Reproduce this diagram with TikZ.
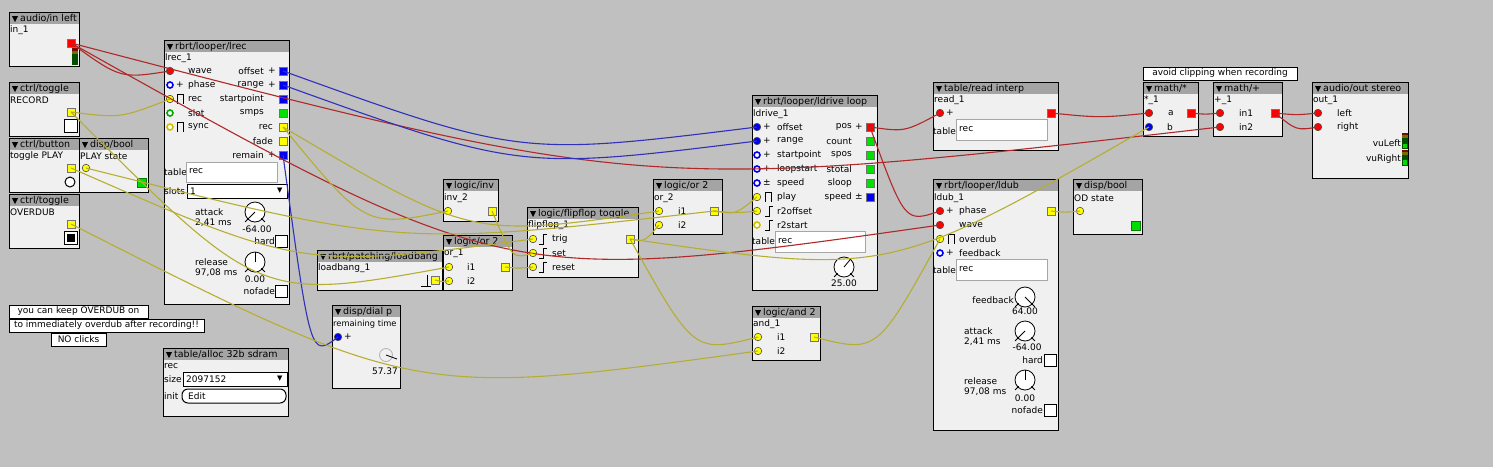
\documentclass[tikz,border=0pt]{standalone}
\usepackage{fontspec}
\setmainfont{DejaVu Sans}
\usetikzlibrary{calc}

\definecolor{patchbg}{RGB}{192,192,192}
\definecolor{objbg}{RGB}{240,240,240}
\definecolor{headbg}{RGB}{164,164,164}
\definecolor{wirered}{RGB}{176,40,40}
\definecolor{wireblue}{RGB}{48,48,184}
\definecolor{wireyel}{RGB}{182,174,50}
\definecolor{portred}{RGB}{255,0,0}
\definecolor{portblue}{RGB}{0,0,240}
\definecolor{portyel}{RGB}{255,255,0}
\definecolor{portgreen}{RGB}{0,225,0}
\definecolor{ringyel}{RGB}{205,195,0}
\definecolor{ringgreen}{RGB}{0,170,0}
\definecolor{vured}{RGB}{120,10,10}
\definecolor{vuolive}{RGB}{120,110,0}
\definecolor{vudark}{RGB}{0,80,0}
\definecolor{vulit}{RGB}{0,220,0}

\tikzset{
  lbl/.style={anchor=west, inner sep=0pt, font=\fontsize{9}{10}\selectfont},
  lblr/.style={anchor=east, inner sep=0pt, font=\fontsize{9}{10}\selectfont},
  lblc/.style={anchor=center, inner sep=0pt, font=\fontsize{9}{10}\selectfont},
  headtext/.style={anchor=west, inner sep=0pt, font=\fontsize{9.5}{10}\selectfont},
  inport/.style={circle, draw=black!70, fill=#1, inner sep=0pt, minimum size=7.5pt, line width=0.6pt},
  inring/.style={circle, draw=#1, fill=white, inner sep=0pt, minimum size=6pt, line width=1.6pt},
  outport/.style={rectangle, draw=black!55, fill=#1, inner sep=0pt, minimum size=8pt, line width=0.6pt},
  objline/.style={draw=black, line width=1pt},
  field/.style={draw=black!35, fill=white, line width=1pt},
  note/.style={draw=black, fill=white, line width=1pt, inner sep=0pt, minimum height=13pt, font=\fontsize{9}{10}\selectfont},
  symline/.style={line width=0.8pt},
  wire/.style={line width=1.1pt},
}

% object box with grey title bar
\newcommand{\axobj}[6]{%
  \fill[objbg] (#2,#3) rectangle (#4,#5);
  \fill[headbg] (#2,#3) rectangle (#4,#3+12);
  \draw[objline] (#2,#3) rectangle (#4,#5);
  \fill (#2+3,#3+4) -- (#2+9,#3+4) -- (#2+6,#3+10) -- cycle;
  \node[headtext] (#1) at (#2+11,#3+6.5) {#6};}
% inlet / outlet with label
\newcommand{\inp}[6]{%
  \node[#4] (#1) at (#2,#3) {};
  \node[lbl] (#1-l) at (#5,#3) {#6};}
\newcommand{\outp}[6]{%
  \node[#4] (#1) at (#2,#3) {};
  \node[lblr] (#1-l) at (#5,#3) {#6};}
\newcommand{\pulsesym}[2]{\draw[symline] (#1-3,#2+5) -- (#1-3,#2-5) -- (#1+3,#2-5) -- (#1+3,#2+5);}
\newcommand{\edgesym}[2]{\draw[symline] (#1-4,#2+5) -- (#1,#2+5) -- (#1,#2-5) -- (#1+4,#2-5);}
\newcommand{\chkbox}[2]{\draw[objline, fill=white] (#1,#2) rectangle (#1+12,#2+12);}
\newcommand{\knob}[3]{%
  \draw[line width=0.8pt, fill=white] (#1,#2) circle [radius=10pt];
  \draw[line width=0.8pt] (#1,#2) ++(225:9pt) -- ++(225:5pt);
  \draw[line width=0.8pt] (#1,#2) ++(315:9pt) -- ++(315:5pt);
  \draw[line width=0.8pt] (#1,#2) -- ++(#3:10pt);}
% sagging patch cord
\newcommand{\wire}[3]{%
  \draw[wire,#1] let \p1=(#2), \p2=(#3),
    \n1={min(\y1,\y2)-0.1*abs(\y1-\y2)-0.05*abs(\x1-\x2)},
    \n2={(\x1+\x2)/2} in
    (\p1) .. controls ({\n2*1pt},{\n1*1pt}) and ({\n2*1pt},{\n1*1pt}) .. (\p2);}

\begin{document}
\begin{tikzpicture}[x=1pt, y=-1pt]
  \useasboundingbox (0,0) rectangle (1493,467);
  \fill[patchbg] (0,0) rectangle (1493,467);

  % left controls
  \axobj{inleft}{9}{12}{79}{66}{audio/in left}
  \node[lbl] (inleft-n) at (10,30) {in\_1};
  \fill[vured] (72,48) rectangle (78,51);
  \fill[vuolive] (72,51) rectangle (78,54);
  \fill[vudark] (72,54) rectangle (78,65);
  \node[outport=portred] (in1o) at (71,43) {};

  \axobj{rectog}{9}{82}{79}{136}{ctrl/toggle}
  \node[lbl] (rectog-n) at (10,100) {RECORD};
  \node[outport=portyel] (recordo) at (71,112) {};
  \draw[objline, fill=white] (64,119) rectangle (77,132);

  \axobj{playbtn}{9}{138}{79}{192}{ctrl/button}
  \node[lbl] (playbtn-n) at (10,156) {toggle PLAY};
  \node[outport=portyel] (playbo) at (71,168) {};
  \draw[objline, fill=white] (70,182) circle [radius=5pt];

  \axobj{playbool}{79}{138}{148}{192}{disp/bool}
  \node[lbl] (playbool-n) at (80,156) {PLAY state};
  \node[inport=portyel] (playsi) at (86,168) {};
  \draw[fill=vulit, draw=green!50!black] (137,178) rectangle (146,187);

  \axobj{odtog}{9}{194}{79}{248}{ctrl/toggle}
  \node[lbl] (odtog-n) at (10,212) {OVERDUB};
  \node[outport=portyel] (overdo) at (71,224) {};
  \draw[objline, fill=white] (64,231) rectangle (77,244);
  \fill (66.5,233.5) rectangle (74.5,241.5);

  \node[note, minimum width=139pt] (note1) at (78.5,311.5) {you can keep OVERDUB on};
  \node[note, minimum width=195pt] (note2) at (106.5,325.5) {to immediately overdub after recording!!};
  \node[note, minimum width=55pt] (note3) at (78.5,339.5) {NO clicks};

  % recorder
  \axobj{lrec}{164}{40}{289}{304}{rbrt/looper/lrec}
  \node[lbl] (lrec-n) at (165,58) {lrec\_1};
  \inp{lrecwave}{170}{71}{inport=portred}{188}{wave}
  \inp{lrecphase}{170}{85}{inring=portblue}{188}{phase}
  \node[lbl] (lrecphase-s) at (176,85) {+};
  \inp{lrecrec}{170}{99}{inport=portyel}{188}{rec}
  \pulsesym{180}{99}
  \inp{lrecslot}{170}{113}{inring=ringgreen}{188}{slot}
  \inp{lrecsync}{170}{127}{inring=ringyel}{188}{sync}
  \pulsesym{180}{127}
  \outp{lrecoff}{283}{71}{outport=portblue}{264}{offset}
  \node[lbl] (lrecoff-s) at (268,71) {+};
  \outp{lrecrng}{283}{85}{outport=portblue}{264}{range}
  \node[lbl] (lrecrng-s) at (268,85) {+};
  \outp{lrecsp}{283}{99}{outport=portblue}{264}{startpoint}
  \outp{lrecsmps}{283}{113}{outport=portgreen}{264}{smps}
  \outp{lrecreco}{283}{127}{outport=portyel}{273}{rec}
  \outp{lrecfade}{283}{141}{outport=portyel}{273}{fade}
  \outp{lrecrem}{283}{155}{outport=portblue}{264}{remain}
  \node[lbl] (lrecrem-s) at (268,155) {+};
  \node[lbl] (lrectab-l) at (164,172) {table};
  \draw[field] (186,162) rectangle (277,182);
  \node[lbl] (lrectab) at (189,171) {rec};
  \node[lbl] (lrecslots-l) at (164,191) {slots};
  \draw[objline, fill=white] (187,184) rectangle (287,198);
  \node[lbl] (lrecslots) at (190,191) {1};
  \node[lbl, font=\fontsize{7}{8}\selectfont] (lrecslots-a) at (277,191) {▼};
  \node[lbl] (lrecatt-l) at (195,212) {attack};
  \node[lbl] (lrecatt-v) at (195,223) {2,41 ms};
  \knob{255}{212}{225}
  \node[lblc] (lrecatt-k) at (257,229) {-64.00};
  \node[lblr] (lrechard-l) at (275,241) {hard};
  \chkbox{275}{235}
  \node[lbl] (lrecrel-l) at (195,262) {release};
  \node[lbl] (lrecrel-v) at (195,273) {97,08 ms};
  \knob{255}{262}{90}
  \node[lblc] (lrecrel-k) at (255,279) {0.00};
  \node[lblr] (lrecnofade-l) at (275,291) {nofade};
  \chkbox{275}{285}

  % table
  \axobj{alloc}{163}{348}{288}{416}{table/alloc 32b sdram}
  \node[lbl] (alloc-n) at (164,366) {rec};
  \node[lbl] (allocsize-l) at (164,379) {size};
  \draw[objline, fill=white] (183,372) rectangle (287,386);
  \node[lbl] (allocsize) at (186,379) {2097152};
  \node[lbl, font=\fontsize{7}{8}\selectfont] (allocsize-a) at (277,379) {▼};
  \node[lbl] (allocinit-l) at (164,396) {init};
  \draw[objline, fill=white, rounded corners=6pt] (182,389) rectangle (286,403);
  \node[lbl] (allocinit) at (188,396) {Edit};

  % remaining time display
  \axobj{dial}{332}{305}{400}{388}{disp/dial p}
  \node[lbl, font=\fontsize{8.3}{10}\selectfont] (dial-n) at (333,324) {remaining time};
  \node[inport=portblue] (diali) at (338,337) {};
  \node[lbl] (diali-s) at (344,337) {+};
  \draw[black!30, line width=0.8pt] (386,355) circle [radius=6.5pt];
  \draw[line width=0.8pt] (386,355) -- (397,359);
  \node[lblr] (dial-v) at (398,371) {57.37};

  % logic
  \axobj{lb}{317}{250}{442}{290}{rbrt/patching/loadbang}
  \node[lbl] (lb-n) at (318,268) {loadbang\_1};
  \draw[symline] (421,286) -- (431,286);
  \draw[symline] (427,286) -- (427,275);
  \node[outport=portyel] (lbo) at (435,280) {};

  \axobj{inv}{443}{179}{498}{221}{logic/inv}
  \node[lbl] (inv-n) at (444,198) {inv\_2};
  \node[inport=portyel] (invi) at (448,211) {};
  \node[outport=portyel] (invo) at (492,211) {};

  \axobj{orone}{443}{235}{512}{290}{logic/or 2}
  \node[lbl] (orone-n) at (444,253) {or\_1};
  \inp{or1a}{449}{267}{inport=portyel}{467}{i1}
  \inp{or1b}{449}{281}{inport=portyel}{467}{i2}
  \node[outport=portyel] (or1o) at (505,267) {};

  \axobj{ff}{527}{207}{638}{277}{logic/flipflop toggle}
  \node[lbl] (ff-n) at (528,225) {flipflop\_1};
  \inp{fft}{533}{239}{inport=portyel}{552}{trig}
  \edgesym{543}{239}
  \inp{ffs}{533}{253}{inport=portyel}{552}{set}
  \edgesym{543}{253}
  \inp{ffr}{533}{267}{inport=portyel}{552}{reset}
  \edgesym{543}{267}
  \node[outport=portyel] (ffo) at (630,239) {};

  \axobj{ortwo}{653}{179}{722}{234}{logic/or 2}
  \node[lbl] (ortwo-n) at (654,198) {or\_2};
  \inp{or2a}{659}{211}{inport=portyel}{678}{i1}
  \inp{or2b}{659}{225}{inport=portyel}{678}{i2}
  \node[outport=portyel] (or2o) at (714,211) {};

  \axobj{and}{752}{306}{820}{360}{logic/and 2}
  \node[lbl] (and-n) at (753,324) {and\_1};
  \inp{and1a}{758}{337}{inport=portyel}{777}{i1}
  \inp{and1b}{758}{351}{inport=portyel}{777}{i2}
  \node[outport=portyel] (and1o) at (814,337) {};

  % player
  \axobj{ldrive}{752}{95}{877}{290}{rbrt/looper/ldrive loop}
  \node[lbl] (ldrive-n) at (753,114) {ldrive\_1};
  \inp{ldroff}{757}{127}{inport=portblue}{777}{offset}
  \node[lbl] (ldroff-s) at (763,127) {+};
  \inp{ldrrng}{757}{141}{inport=portblue}{777}{range}
  \node[lbl] (ldrrng-s) at (763,141) {+};
  \inp{ldrsp}{757}{155}{inring=portblue}{777}{startpoint}
  \node[lbl] (ldrsp-s) at (763,155) {+};
  \inp{ldrls}{757}{169}{inring=portblue}{777}{loopstart}
  \node[lbl] (ldrls-s) at (763,169) {+};
  \inp{ldrspd}{757}{183}{inring=portblue}{777}{speed}
  \node[lbl] (ldrspd-s) at (763,183) {±};
  \inp{ldrplay}{757}{197}{inport=portyel}{777}{play}
  \pulsesym{768}{197}
  \inp{ldrr2off}{757}{211}{inport=portyel}{777}{r2offset}
  \edgesym{769}{211}
  \inp{ldrr2st}{757}{225}{inring=ringyel}{777}{r2start}
  \edgesym{769}{225}
  \outp{ldrpos}{870}{127}{outport=portred}{852}{pos}
  \node[lbl] (ldrpos-s) at (855,127) {+};
  \outp{ldrcnt}{870}{141}{outport=portgreen}{852}{count}
  \outp{ldrspos}{870}{155}{outport=portgreen}{852}{spos}
  \outp{ldrstot}{870}{169}{outport=portgreen}{852}{stotal}
  \outp{ldrsloop}{870}{183}{outport=portgreen}{852}{sloop}
  \outp{ldrspdo}{870}{197}{outport=portblue}{852}{speed}
  \node[lbl] (ldrspdo-s) at (855,197) {±};
  \node[lbl] (ldrtab-l) at (752,241) {table};
  \draw[field] (775,231) rectangle (865,252);
  \node[lbl] (ldrtab) at (778,241) {rec};
  \knob{844}{267}{50}
  \node[lblc] (ldr-k) at (844,283) {25.00};

  % overdub
  \axobj{ldub}{933}{179}{1058}{430}{rbrt/looper/ldub}
  \node[lbl] (ldub-n) at (934,198) {ldub\_1};
  \inp{ldubphase}{940}{211}{inport=portred}{959}{phase}
  \node[lbl] (ldubphase-s) at (946,211) {+};
  \inp{ldubwave}{940}{225}{inport=portred}{959}{wave}
  \inp{ldubod}{940}{239}{inport=portyel}{959}{overdub}
  \pulsesym{951}{239}
  \inp{ldubfb}{940}{253}{inring=portblue}{959}{feedback}
  \node[lbl] (ldubfb-s) at (946,253) {+};
  \node[outport=portyel] (ldubo) at (1051,211) {};
  \node[lbl] (ldubtab-l) at (933,270) {table};
  \draw[field] (956,259) rectangle (1047,280);
  \node[lbl] (ldubtab) at (959,269) {rec};
  \node[lblr] (ldubfb-k-l) at (1014,300) {feedback};
  \knob{1025}{297}{-45}
  \node[lblc] (ldubfb-k) at (1025,311) {64.00};
  \node[lbl] (ldubatt-l) at (964,331) {attack};
  \node[lbl] (ldubatt-v) at (964,342) {2,41 ms};
  \knob{1025}{331}{225}
  \node[lblc] (ldubatt-k) at (1027,347) {-64.00};
  \node[lblr] (ldubhard-l) at (1043,360) {hard};
  \chkbox{1044}{354}
  \node[lbl] (ldubrel-l) at (964,381) {release};
  \node[lbl] (ldubrel-v) at (964,392) {97,08 ms};
  \knob{1025}{380}{90}
  \node[lblc] (ldubrel-k) at (1025,398) {0.00};
  \node[lblr] (ldubnofade-l) at (1043,410) {nofade};
  \chkbox{1044}{404}

  \axobj{odbool}{1073}{179}{1142}{234}{disp/bool}
  \node[lbl] (odbool-n) at (1074,198) {OD state};
  \node[inport=portyel] (odi) at (1080,211) {};
  \draw[fill=vulit, draw=green!50!black] (1131,221) rectangle (1140,230);

  % output chain
  \axobj{read}{933}{82}{1058}{150}{table/read interp}
  \node[lbl] (read-n) at (934,100) {read\_1};
  \node[inport=portred] (readi) at (940,113) {};
  \node[lbl] (readi-s) at (946,113) {+};
  \node[outport=portred] (reado) at (1051,113) {};
  \node[lbl] (readtab-l) at (933,131) {table};
  \draw[field] (956,119) rectangle (1047,140);
  \node[lbl] (readtab) at (959,129) {rec};

  \node[note, minimum width=154pt] (clipnote) at (1220,73.5) {avoid clipping when recording};

  \axobj{mul}{1143}{82}{1198}{136}{math/*}
  \node[lbl] (mul-n) at (1144,100) {*\_1};
  \inp{mula}{1149}{113}{inport=portred}{1168}{a}
  \inp{mulb}{1149}{127}{inport=portblue}{1167}{b}
  \node[outport=portred] (mulo) at (1191,113) {};

  \axobj{plus}{1213}{82}{1282}{136}{math/+}
  \node[lbl] (plus-n) at (1214,100) {+\_1};
  \inp{plusa}{1220}{113}{inport=portred}{1239}{in1}
  \inp{plusb}{1220}{127}{inport=portred}{1239}{in2}
  \node[outport=portred] (pluso) at (1275,113) {};

  \axobj{out}{1312}{82}{1408}{178}{audio/out stereo}
  \node[lbl] (out-n) at (1313,100) {out\_1};
  \inp{outl}{1318}{113}{inport=portred}{1337}{left}
  \inp{outr}{1318}{127}{inport=portred}{1337}{right}
  \node[lblr] (outvul) at (1401,143) {vuLeft};
  \node[lblr] (outvur) at (1401,159) {vuRight};
  \fill[vured] (1402,133) rectangle (1408,135);
  \fill[vuolive] (1402,135) rectangle (1408,138);
  \fill[vudark] (1402,138) rectangle (1408,149);
  \fill[vulit] (1403,144) rectangle (1407,148);
  \fill[vured] (1402,150) rectangle (1408,152);
  \fill[vuolive] (1402,152) rectangle (1408,155);
  \fill[vudark] (1402,155) rectangle (1408,166);
  \fill[vulit] (1403,160) rectangle (1407,165);

  % cords
  \wire{wirered}{in1o}{lrecwave}
  \wire{wirered}{in1o}{ldubwave}
  \wire{wirered}{in1o}{plusb}
  \wire{wirered}{ldrpos}{readi}
  \wire{wirered}{ldrpos}{ldubphase}
  \wire{wirered}{reado}{mula}
  \wire{wirered}{mulo}{plusa}
  \wire{wirered}{pluso}{outl}
  \wire{wirered}{pluso}{outr}
  \wire{wireblue}{lrecoff}{ldroff}
  \wire{wireblue}{lrecrng}{ldrrng}
  \wire{wireblue}{lrecrem}{diali}
  \wire{wireyel}{recordo}{lrecrec}
  \wire{wireyel}{recordo}{or1a}
  \wire{wireyel}{playbo}{fft}
  \wire{wireyel}{or2o}{playsi}
  \wire{wireyel}{lrecreco}{invi}
  \wire{wireyel}{lrecreco}{or2a}
  \wire{wireyel}{invo}{ffs}
  \wire{wireyel}{lbo}{or1b}
  \wire{wireyel}{or1o}{ffr}
  \wire{wireyel}{ffo}{or2b}
  \wire{wireyel}{ffo}{and1a}
  \wire{wireyel}{ffo}{mulb}
  \wire{wireyel}{or2o}{ldrplay}
  \wire{wireyel}{or2o}{ldrr2off}
  \wire{wireyel}{overdo}{and1b}
  \wire{wireyel}{and1o}{ldubod}
  \wire{wireyel}{ldubo}{odi}
\end{tikzpicture}
\end{document}
